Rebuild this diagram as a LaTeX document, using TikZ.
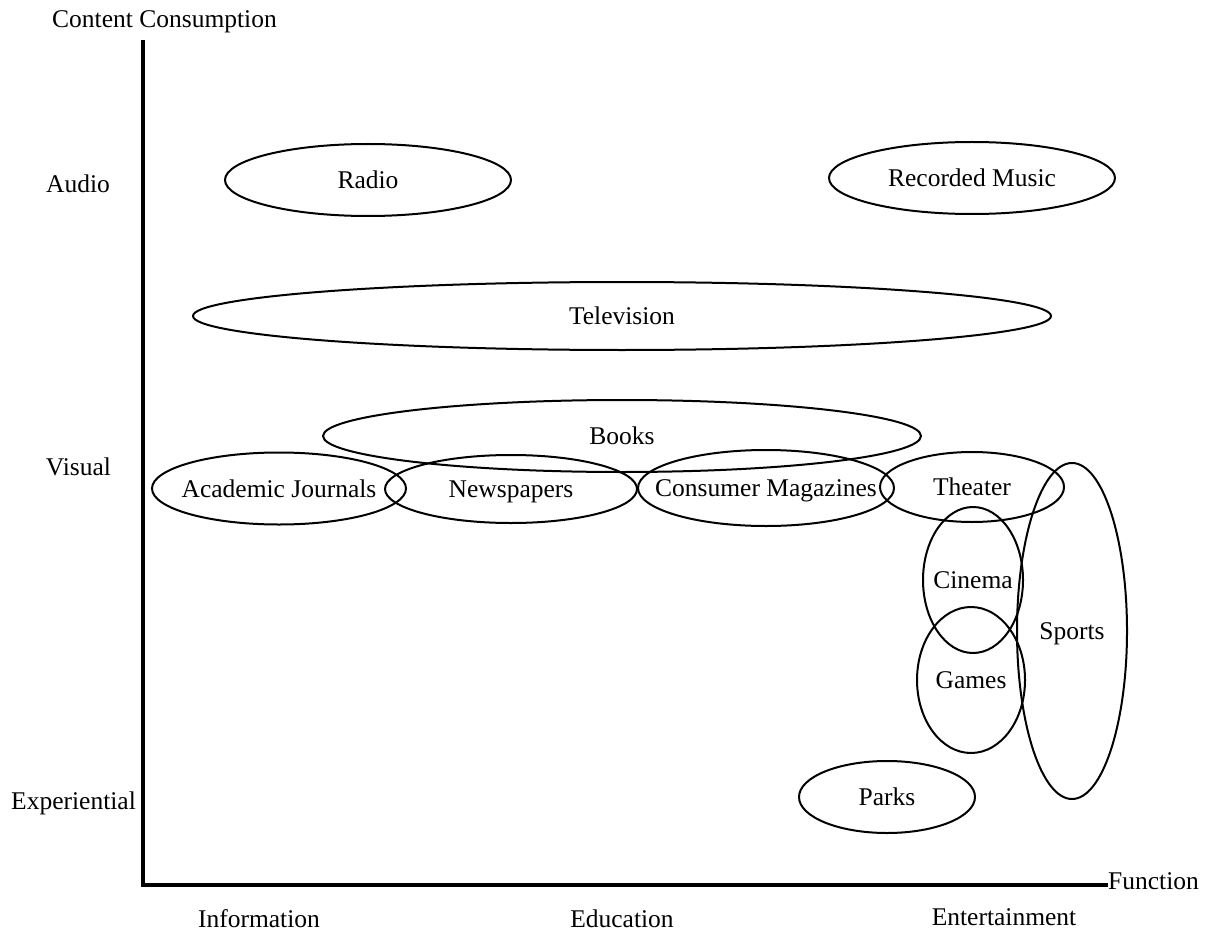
\documentclass[tikz,border=0pt]{standalone}
\usepackage{fontspec}
\setmainfont{Liberation Serif}
\usetikzlibrary{shapes.geometric}
\newcommand{\zw}[1]{\makebox[0pt]{#1}}
\begin{document}
\begin{tikzpicture}[x=1pt,y=-1pt,
  font=\fontsize{25.5}{30}\selectfont,
  blob/.style={draw,ellipse,line width=2pt,inner sep=0pt,outer sep=0pt,text height=17pt,text depth=0pt},
  lbl/.style={anchor=base,inner sep=0pt},
  axis/.style={line width=4.5pt}]
\useasboundingbox (0,0) rectangle (1206,933);
% axes
\coordinate (top) at (143,40);
\coordinate (origin) at (143,885);
\coordinate (xend) at (1108,885);
\draw[axis] (top) -- (origin) -- (xend);
% axis labels
\node[lbl] (ylab) at (164.5,28) {Content Consumption};
\node[lbl] (audio) at (78,193) {Audio};
\node[lbl] (visual) at (78.5,475) {Visual};
\node[lbl] (exp) at (73.5,809) {Experiential};
\node[lbl] (info) at (259,927) {Information};
\node[lbl] (edu) at (622,927) {Education};
\node[lbl] (ent) at (1004,925) {Entertainment};
\node[lbl,anchor=base west] (func) at (1108,889) {Function};
% ellipses
\node[blob,minimum width=286pt,minimum height=72pt] (radio) at (368,180) {\zw{Radio}};
\node[blob,minimum width=286pt,minimum height=72pt] (music) at (972,178) {\zw{Recorded Music}};
\node[blob,minimum width=858pt,minimum height=68pt] (tv) at (622,316) {\zw{Television}};
\node[blob,minimum width=598pt,minimum height=72pt] (books) at (622,436) {\zw{Books}};
\node[blob,minimum width=254pt,minimum height=72pt] (acad) at (279,488.5) {\zw{Academic Journals}};
\node[blob,minimum width=252pt,minimum height=68pt] (news) at (511,489) {\zw{Newspapers}};
\node[blob,minimum width=256pt,minimum height=76pt] (mag) at (766,488) {\zw{Consumer Magazines}};
\node[blob,minimum width=184pt,minimum height=70pt] (theater) at (972,487) {\zw{Theater}};
\node[blob,minimum width=100pt,minimum height=146pt] (cinema) at (973,580) {\zw{Cinema}};
\node[blob,minimum width=108pt,minimum height=146pt] (games) at (971,680) {\zw{Games}};
\node[blob,minimum width=110pt,minimum height=336pt] (sports) at (1072,631) {\zw{Sports}};
\node[blob,minimum width=176pt,minimum height=72pt] (parks) at (887,797) {\zw{Parks}};
\end{tikzpicture}
\end{document}
